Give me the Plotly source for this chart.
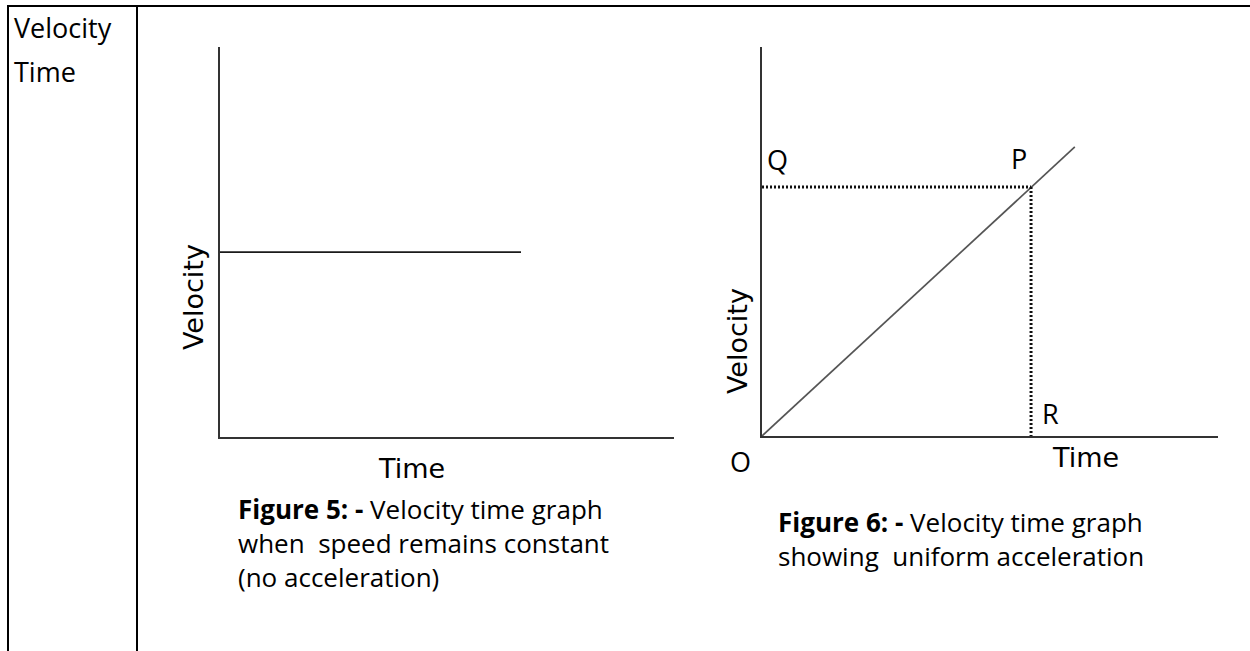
import plotly.graph_objects as go

# ---- data ----
# Figure 5: constant velocity
fig5_time = [0, 6.63]
fig5_velocity = [4.74, 4.74]
# Figure 6: uniform acceleration
fig6_time = [0, 6.86]
fig6_velocity = [0, 7.43]
point_p = (5.9, 6.4)  # (time, velocity) of P

table_left_text = ["Velocity", "Time"]
caption5_lines = ["<b>Figure 5:</b> <b>-</b> Velocity time graph",
                  "when  speed remains constant",
                  "(no acceleration)"]
caption6_lines = ["<b>Figure 6:</b> <b>-</b> Velocity time graph",
                  "showing  uniform acceleration"]

W, H = 1250, 651
def px(x):
    return x / W
def py(y):
    return 1 - y / H

CAP_FONT = "'Open Sans', 'Noto Sans', sans-serif"
AX_FONT = "'DejaVu Sans', Verdana, sans-serif"

fig = go.Figure()

fig.add_trace(go.Scatter(x=fig5_time, y=fig5_velocity, mode="lines",
                         line=dict(color="#1a1a1a", width=1.7),
                         xaxis="x", yaxis="y", showlegend=False, hoverinfo="skip"))
fig.add_trace(go.Scatter(x=fig6_time, y=fig6_velocity, mode="lines",
                         line=dict(color="#555555", width=1.7),
                         xaxis="x2", yaxis="y2", showlegend=False, hoverinfo="skip"))
# dotted guides Q-P and P-R
fig.add_trace(go.Scatter(x=[0, point_p[0]], y=[point_p[1], point_p[1]], mode="lines",
                         line=dict(color="#111111", width=3, dash="2px,2px"),
                         xaxis="x2", yaxis="y2", showlegend=False, hoverinfo="skip"))
fig.add_trace(go.Scatter(x=[point_p[0], point_p[0]], y=[point_p[1], 0], mode="lines",
                         line=dict(color="#111111", width=3, dash="2px,2px"),
                         xaxis="x2", yaxis="y2", showlegend=False, hoverinfo="skip"))

axis_common = dict(range=[0, 10], showgrid=False, zeroline=False, showticklabels=False,
                   ticks="", showline=True, linecolor="#333333", linewidth=1.7, fixedrange=True)

fig.update_layout(
    width=W, height=H,
    margin=dict(l=0, r=0, t=0, b=0),
    paper_bgcolor="white", plot_bgcolor="white",
    xaxis=dict(domain=[px(220), px(674)], anchor="y", **axis_common),
    yaxis=dict(domain=[py(437), py(47)], anchor="x", **axis_common),
    xaxis2=dict(domain=[px(762), px(1218)], anchor="y2", **axis_common),
    yaxis2=dict(domain=[py(436), py(47)], anchor="x2", **axis_common),
)

# table borders
border = dict(color="black", width=2)
fig.add_shape(type="line", xref="paper", yref="paper", x0=px(7), x1=1, y0=py(6), y1=py(6), line=border)
fig.add_shape(type="line", xref="paper", yref="paper", x0=px(8), x1=px(8), y0=py(6), y1=0, line=border)
fig.add_shape(type="line", xref="paper", yref="paper", x0=px(137), x1=px(137), y0=py(6), y1=0, line=border)

ann = []
ann.append(dict(text=table_left_text[0], x=px(12), y=py(27), xanchor="left", yanchor="middle",
                font=dict(family=CAP_FONT, size=27, color="black")))
ann.append(dict(text=table_left_text[1], x=px(12), y=py(72), xanchor="left", yanchor="middle",
                font=dict(family=CAP_FONT, size=27, color="black")))

# axis labels
ann.append(dict(text="Velocity", x=px(193), y=py(297), textangle=-90, xanchor="center", yanchor="middle",
                font=dict(family=AX_FONT, size=27, color="black")))
ann.append(dict(text="Time", x=px(411), y=py(468), xanchor="center", yanchor="middle",
                font=dict(family=AX_FONT, size=27, color="black")))
ann.append(dict(text="Velocity", x=px(737), y=py(341), textangle=-90, xanchor="center", yanchor="middle",
                font=dict(family=AX_FONT, size=27, color="black")))
ann.append(dict(text="Time", x=px(1085), y=py(457), xanchor="center", yanchor="middle",
                font=dict(family=AX_FONT, size=27, color="black")))

# point labels
for t, xx, yy in [("Q", 777, 160), ("P", 1019, 159), ("R", 1050, 413), ("O", 740, 461)]:
    ann.append(dict(text=t, x=px(xx), y=py(yy), xanchor="center", yanchor="middle",
                    font=dict(family=CAP_FONT, size=27, color="black")))

# captions
ann.append(dict(text="<br>".join(caption5_lines), x=px(236), y=py(489), xanchor="left", yanchor="top",
                align="left", font=dict(family=CAP_FONT, size=26, color="black")))
ann.append(dict(text="<br>".join(caption6_lines), x=px(776), y=py(502), xanchor="left", yanchor="top",
                align="left", font=dict(family=CAP_FONT, size=26, color="black")))

for a in ann:
    a.update(xref="paper", yref="paper", showarrow=False)
fig.update_layout(annotations=ann)

fig.write_html("out.html", config={"displayModeBar": False},
               post_script="document.body.style.margin='0';document.body.style.overflow='hidden';")
